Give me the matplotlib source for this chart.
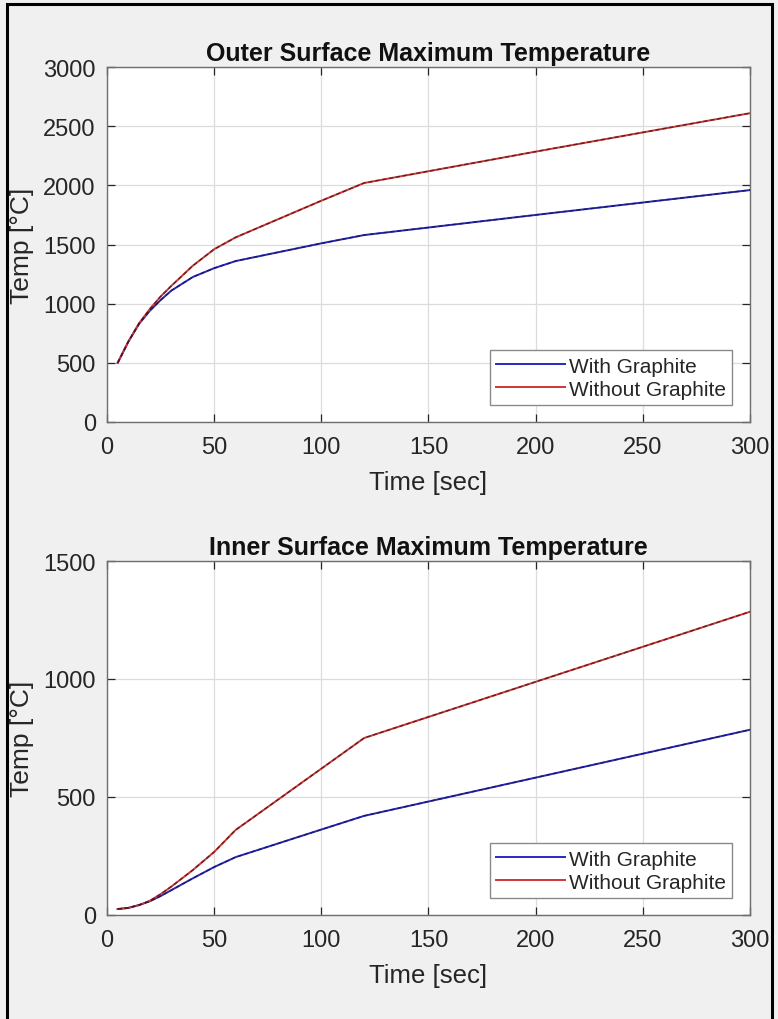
import matplotlib.pyplot as plt
from matplotlib.patches import Rectangle

plt.rcParams['font.family'] = ['Liberation Sans', 'DejaVu Sans']

# outer surface
outer_t = [5, 10, 15, 20, 25, 30, 40, 50, 60, 100, 120, 200, 300]
outer_with = [500, 680, 830, 940, 1030, 1110, 1225, 1300, 1360, 1510, 1580, 1750, 1960]
outer_without = [500, 680, 835, 955, 1060, 1150, 1320, 1460, 1560, 1870, 2020, 2285, 2610]

# inner surface
inner_t = [5, 10, 15, 20, 25, 30, 40, 50, 60, 100, 120, 200, 300]
inner_with = [25, 30, 42, 58, 80, 105, 155, 203, 245, 362, 420, 582, 785]
inner_without = [25, 30, 42, 60, 88, 120, 190, 267, 360, 620, 750, 988, 1285]

labels = ['With Graphite', 'Without Graphite']
x_ticks = [0, 50, 100, 150, 200, 250, 300]

blue = '#2828c0'
red = '#d03636'
txt = '#262626'

fig = plt.figure(figsize=(7.78, 10.20), dpi=100, facecolor='#f0f0f0')
fig.patches.append(Rectangle((0.009, -0.01), 0.983, 1.005, transform=fig.transFigure,
                             fill=False, edgecolor='black', linewidth=2.2))

ax1 = fig.add_axes([0.1375, 0.5853, 0.8265, 0.348])
ax2 = fig.add_axes([0.1375, 0.102, 0.8265, 0.347])


def draw(ax, t, y1, y2, title, ylim, yticks):
    ax.plot(t, y1, color=blue, lw=1.4, label=labels[0], zorder=3)
    ax.plot(t, y2, color=red, lw=1.4, label=labels[1], zorder=3)
    # dark dashed overlay seen on the curves
    ax.plot(t, y1, color='#15153a', lw=1.0, ls=(0, (3, 2)), alpha=0.75, zorder=4)
    ax.plot(t, y2, color='#401515', lw=1.0, ls=(0, (3, 2)), alpha=0.75, zorder=4)
    ax.set_xlim(0, 300)
    ax.set_ylim(*ylim)
    ax.set_xticks(x_ticks)
    ax.set_yticks(yticks)
    ax.grid(True, color='#dcdcdc', lw=0.9)
    ax.set_axisbelow(True)
    ax.tick_params(direction='in', length=6, width=0.9, top=True, right=True,
                   colors=txt, labelsize=17)
    ax.tick_params(axis='y', pad=8)
    ax.tick_params(axis='x', pad=10)
    for s in ax.spines.values():
        s.set_color('#6e6e6e')
        s.set_linewidth(1.0)
    ax.set_title(title, fontsize=18, fontweight='bold', color='#111111', pad=5)
    ax.set_xlabel('Time [sec]', fontsize=18.5, color=txt, labelpad=9)
    ax.set_ylabel('Temp [°C]', fontsize=19, color=txt, labelpad=7)
    leg = ax.legend(loc='lower right', bbox_to_anchor=(0.972, 0.048), borderaxespad=0,
                    fontsize=15, handlelength=3.3, labelspacing=0.2, borderpad=0.3,
                    handletextpad=0.2, fancybox=False, framealpha=1, edgecolor='#8a8a8a')
    leg.get_frame().set_linewidth(1.0)
    for tx in leg.get_texts():
        tx.set_color(txt)


draw(ax1, outer_t, outer_with, outer_without, 'Outer Surface Maximum Temperature',
     (0, 3000), [0, 500, 1000, 1500, 2000, 2500, 3000])
draw(ax2, inner_t, inner_with, inner_without, 'Inner Surface Maximum Temperature',
     (0, 1500), [0, 500, 1000, 1500])

fig.savefig('out.png', dpi=100, facecolor=fig.get_facecolor())
